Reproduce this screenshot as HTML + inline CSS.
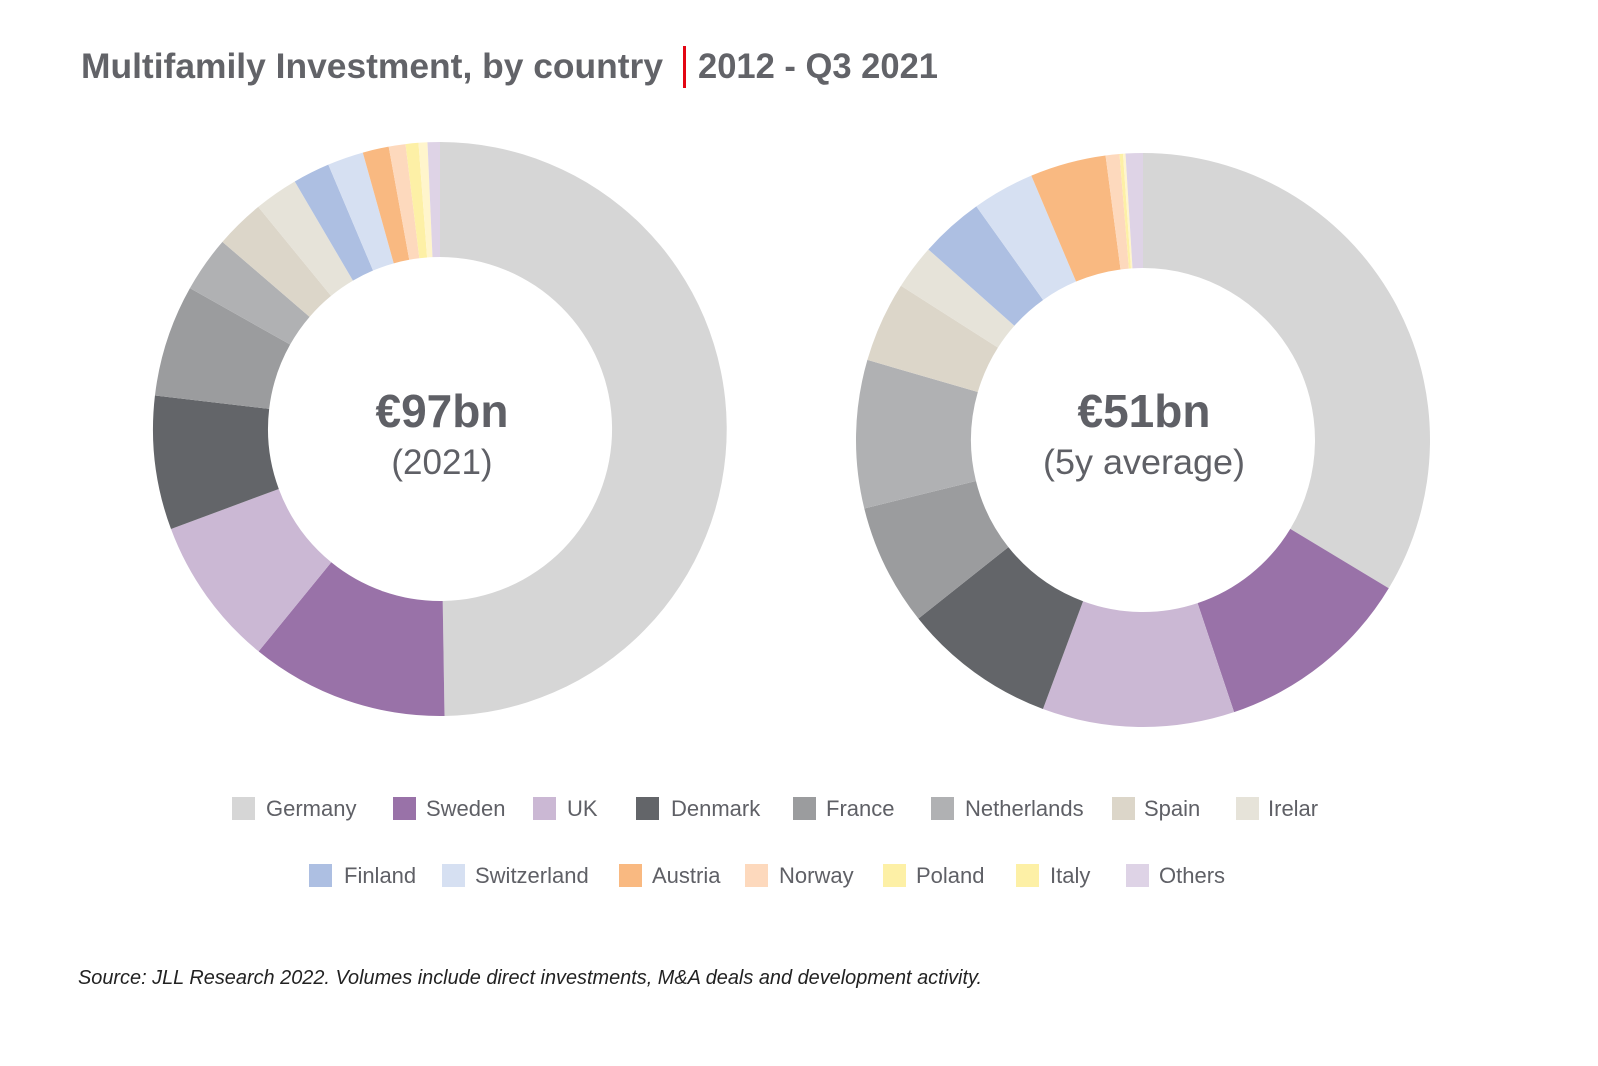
<!DOCTYPE html>
<html><head><meta charset="utf-8"><style>
html,body{margin:0;padding:0;background:#fff;}
svg{display:block;}
text{font-family:"Liberation Sans",sans-serif;}
</style></head><body>
<svg id="s" width="1598" height="1066" viewBox="0 0 1598 1066" xmlns="http://www.w3.org/2000/svg">
<rect width="1598" height="1066" fill="#fff"/>
<text x="81" y="78" font-size="35" font-weight="bold" fill="#626368" textLength="582" lengthAdjust="spacingAndGlyphs">Multifamily Investment, by country</text>
<rect x="683" y="46" width="3" height="42" fill="#e30613"/>
<text x="698" y="78" font-size="35" font-weight="bold" fill="#626368" textLength="240" lengthAdjust="spacingAndGlyphs">2012 - Q3 2021</text>
<g id="d1"></g><g id="d2"></g>
<text x="442" y="427" font-size="46" font-weight="bold" fill="#5f6066" text-anchor="middle">€97bn</text>
<text x="442" y="474" font-size="35" fill="#5f6066" text-anchor="middle">(2021)</text>
<text x="1144" y="427" font-size="46" font-weight="bold" fill="#5f6066" text-anchor="middle">€51bn</text>
<text x="1144" y="474" font-size="35" fill="#5f6066" text-anchor="middle" textLength="202" lengthAdjust="spacingAndGlyphs">(5y average)</text>
<g id="lg" font-size="22" fill="#5f6066"></g>
<text x="78" y="984" font-size="20" font-style="italic" fill="#222" textLength="904" lengthAdjust="spacingAndGlyphs">Source: JLL Research 2022. Volumes include direct investments, M&amp;A deals and development activity.</text>
</svg>
<script>
var C=["#d6d6d6","#9972a8","#cbb8d4","#636569","#9b9c9e","#b0b1b3","#dcd6c9","#e6e3d9","#adbfe2","#d6e0f2","#f9b981","#fdd9bd","#fdf0a6","#fff5cc","#ded3e6"];
function donut(id,cx,cy,R,r,ends){
 var g=document.getElementById(id),s=0,h="";
 ends.forEach(function(e,i){
  var a0=(s-90)*Math.PI/180,a1=(e-90)*Math.PI/180,l=(e-s)>180?1:0;
  var p=function(rad,a){return (cx+rad*Math.cos(a)).toFixed(2)+","+(cy+rad*Math.sin(a)).toFixed(2);};
  h+='<path fill="'+C[i]+'" d="M'+p(R,a0)+' A'+R+','+R+' 0 '+l+' 1 '+p(R,a1)+' L'+p(r,a1)+' A'+r+','+r+' 0 '+l+' 0 '+p(r,a0)+' Z"/>';
  s=e;});
 g.innerHTML=h;}
donut("d1",440,429,287,172,[179.1,219.2,249.6,276.7,299.4,310.7,320.7,329.6,337.1,344.4,349.7,353.1,355.7,357.5,360]);
donut("d2",1143,440,287,172,[121.1,161.5,200.4,231.5,256.2,286.2,302.5,311.6,324.5,337.1,352.5,355.3,356.0,356.5,360]);
var L=[["Germany",232,266,0],["Sweden",393,426,1],["UK",533,567,2],["Denmark",636,671,3],["France",793,826,4],["Netherlands",931,965,5],["Spain",1112,1144,6],["Irelar",1236,1268,7],
["Finland",309,344,8],["Switzerland",442,475,9],["Austria",619,652,10],["Norway",745,779,11],["Poland",883,916,12],["Italy",1016,1050,12],["Others",1126,1159,14]];
var h="";L.forEach(function(o,i){var y=i<8?797:864;
 h+='<rect x="'+o[1]+'" y="'+y+'" width="23" height="23" fill="'+C[o[3]]+'"/><text x="'+o[2]+'" y="'+(y+19)+'">'+o[0]+'</text>';});
document.getElementById("lg").innerHTML=h;
</script>
</body></html>
